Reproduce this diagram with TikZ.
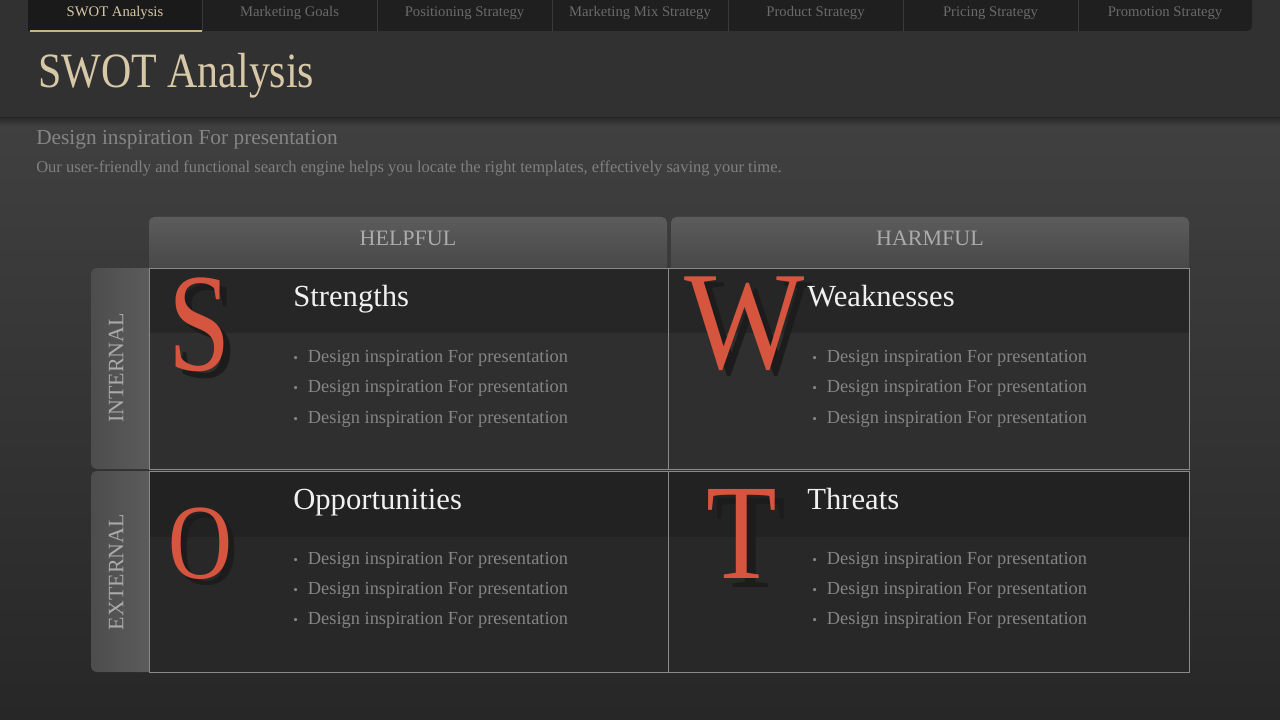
\documentclass[tikz,border=0pt]{standalone}
\usepackage{fontspec}
\setmainfont{Liberation Serif}
\usetikzlibrary{calc}

\definecolor{bartop}{HTML}{313131}
\definecolor{bgup}{HTML}{404040}
\definecolor{bgdown}{HTML}{272727}
\definecolor{navbg}{HTML}{1F1F1F}
\definecolor{navact}{HTML}{1A1A1A}
\definecolor{navline}{HTML}{3A3A3A}
\definecolor{gold}{HTML}{C9B383}
\definecolor{beige}{HTML}{D7C8A7}
\definecolor{navtext}{HTML}{6A6A6A}
\definecolor{greytext}{HTML}{858585}
\definecolor{cellline}{HTML}{8A8A8A}
\definecolor{bodyup}{HTML}{2F2F2F}
\definecolor{bandup}{HTML}{262626}
\definecolor{bodydown}{HTML}{282828}
\definecolor{banddown}{HTML}{222222}
\definecolor{swotred}{HTML}{D6553F}
\definecolor{lettershadow}{HTML}{1C1C1C}

\newcommand{\bulletline}{{\fontsize{10}{10}\selectfont\textbullet}\hspace{7.5pt}Design inspiration For presentation}

\begin{document}
\begin{tikzpicture}[x=0.75pt, y=-0.75pt]
		\tikzstyle{navtab} = [inner sep=0pt, font=\fontsize{11}{13}\selectfont, text=navtext]
		\tikzstyle{axislabel} = [inner sep=0pt, font=\fontsize{16.5}{19}\selectfont, text=black!33]
		\tikzstyle{cardtitle} = [anchor=base west, inner sep=0pt, font=\fontsize{23}{27}\selectfont, text=white!94!black]
		\tikzstyle{bullet} = [anchor=base west, inner sep=0pt, font=\fontsize{13.8}{16}\selectfont, text=greytext]
		\tikzstyle{bigletter} = [anchor=base, inner sep=0pt, font=\fontsize{105}{105}\selectfont, text=swotred]
		
		\useasboundingbox (0,0) rectangle (1280,720);
		
		% background and top bar
		\shade [top color=bgup, bottom color=bgdown] (0,118) rectangle (1280,720);
		\fill [bartop] (0,0) rectangle (1280,118);
		\shade [top color=black!85, bottom color=bgup, opacity=0.8] (0,118) rectangle (1280,126);
		
		% navigation
		\fill [navbg, rounded corners=4pt] (28,-10) rectangle (1252,31);
		\fill [navact] (28,0) rectangle (202,31);
		\draw [gold, line width=1pt] (30,31) -- (202,31);
		\draw [navline] (202,0) -- (202,31) (377,0) -- (377,31) (552,0) -- (552,31) (728,0) -- (728,31) (903,0) -- (903,31) (1078,0) -- (1078,31);
		
		\node [navtab, text=beige] (tab1) at (115,13) {SWOT Analysis};
		\node [navtab] (tab2) at (289.5,13) {Marketing Goals};
		\node [navtab] (tab3) at (464.5,13) {Positioning Strategy};
		\node [navtab] (tab4) at (640,13) {Marketing Mix Strategy};
		\node [navtab] (tab5) at (815.5,13) {Product Strategy};
		\node [navtab] (tab6) at (990.5,13) {Pricing Strategy};
		\node [navtab] (tab7) at (1165,13) {Promotion Strategy};
		
		% heading
		\node [anchor=base west, inner sep=0pt, xscale=0.85, font=\fontsize{37}{40}\selectfont, text=beige] (title) at (38,88) {SWOT Analysis};
		\node [anchor=base west, inner sep=0pt, font=\fontsize{16}{19}\selectfont, text=greytext] (subtitle) at (36,145) {Design inspiration For presentation};
		\node [anchor=base west, inner sep=0pt, font=\fontsize{12.4}{15}\selectfont, text=black!50] (intro) at (36,173) {Our user-friendly and functional search engine helps you locate the right templates, effectively saving your time.};
		
		% column and row tabs
		\shade [top color=black!64, bottom color=black!75, rounded corners=4pt] (149,217) rectangle (667,290);
		\shade [top color=black!64, bottom color=black!75, rounded corners=4pt] (671,217) rectangle (1189,290);
		\shade [left color=black!70, right color=black!62, rounded corners=4pt] (91,268) rectangle (170,469);
		\shade [left color=black!70, right color=black!62, rounded corners=4pt] (91,471) rectangle (170,672);
		
		\node [axislabel] (helpful) at (408,238) {HELPFUL};
		\node [axislabel] (harmful) at (930,238) {HARMFUL};
		\node [axislabel, rotate=90] (internal) at (116,368) {INTERNAL};
		\node [axislabel, rotate=90] (external) at (116,572) {EXTERNAL};
		
		% cells
		\fill [bodyup] (149,268) rectangle (1189,469);
		\fill [bandup] (149,268) rectangle (1189,333);
		\fill [bodydown] (149,471) rectangle (1189,672);
		\fill [banddown] (149,471) rectangle (1189,537);
		\draw [cellline, line width=0.6pt] (149,268) rectangle (668.5,469);
		\draw [cellline, line width=0.6pt] (668.5,268) rectangle (1189,469);
		\draw [cellline, line width=0.6pt] (149,471) rectangle (668.5,672);
		\draw [cellline, line width=0.6pt] (668.5,471) rectangle (1189,672);
		
		% big letters
		\node [bigletter, text=lettershadow, xscale=0.8] (Sshadow) at (207,377) {S};
		\node [bigletter, xscale=0.8] (Sletter) at (200,370) {S};
		\node [bigletter, text=lettershadow, xscale=0.91] (Wshadow) at (753,374) {W};
		\node [bigletter, xscale=0.91] (Wletter) at (745,368) {W};
		\node [bigletter, text=lettershadow, font=\fontsize{80}{80}\selectfont, xscale=0.83] (Oshadow) at (206,584) {O};
		\node [bigletter, font=\fontsize{80}{80}\selectfont, xscale=0.83] (Oletter) at (200,578) {O};
		\node [bigletter, text=lettershadow, font=\fontsize{102}{102}\selectfont, xscale=0.85] (Tshadow) at (751,587) {T};
		\node [bigletter, font=\fontsize{102}{102}\selectfont, xscale=0.85] (Tletter) at (742,578) {T};
		
		% card texts
		\node [cardtitle] (strengths) at (293,306) {Strengths};
		\node [cardtitle] (weaknesses) at (807,306) {Weaknesses};
		\node [cardtitle] (opportunities) at (293,509) {Opportunities};
		\node [cardtitle] (threats) at (807,509) {Threats};
		
		\node [bullet] (s1) at (293,362) {\bulletline};
		\node [bullet] (s2) at (293,392) {\bulletline};
		\node [bullet] (s3) at (293,423) {\bulletline};
		\node [bullet] (w1) at (812,362) {\bulletline};
		\node [bullet] (w2) at (812,392) {\bulletline};
		\node [bullet] (w3) at (812,423) {\bulletline};
		\node [bullet] (o1) at (293,564) {\bulletline};
		\node [bullet] (o2) at (293,594) {\bulletline};
		\node [bullet] (o3) at (293,624) {\bulletline};
		\node [bullet] (t1) at (812,564) {\bulletline};
		\node [bullet] (t2) at (812,594) {\bulletline};
		\node [bullet] (t3) at (812,624) {\bulletline};
	\end{tikzpicture}
\end{document}
